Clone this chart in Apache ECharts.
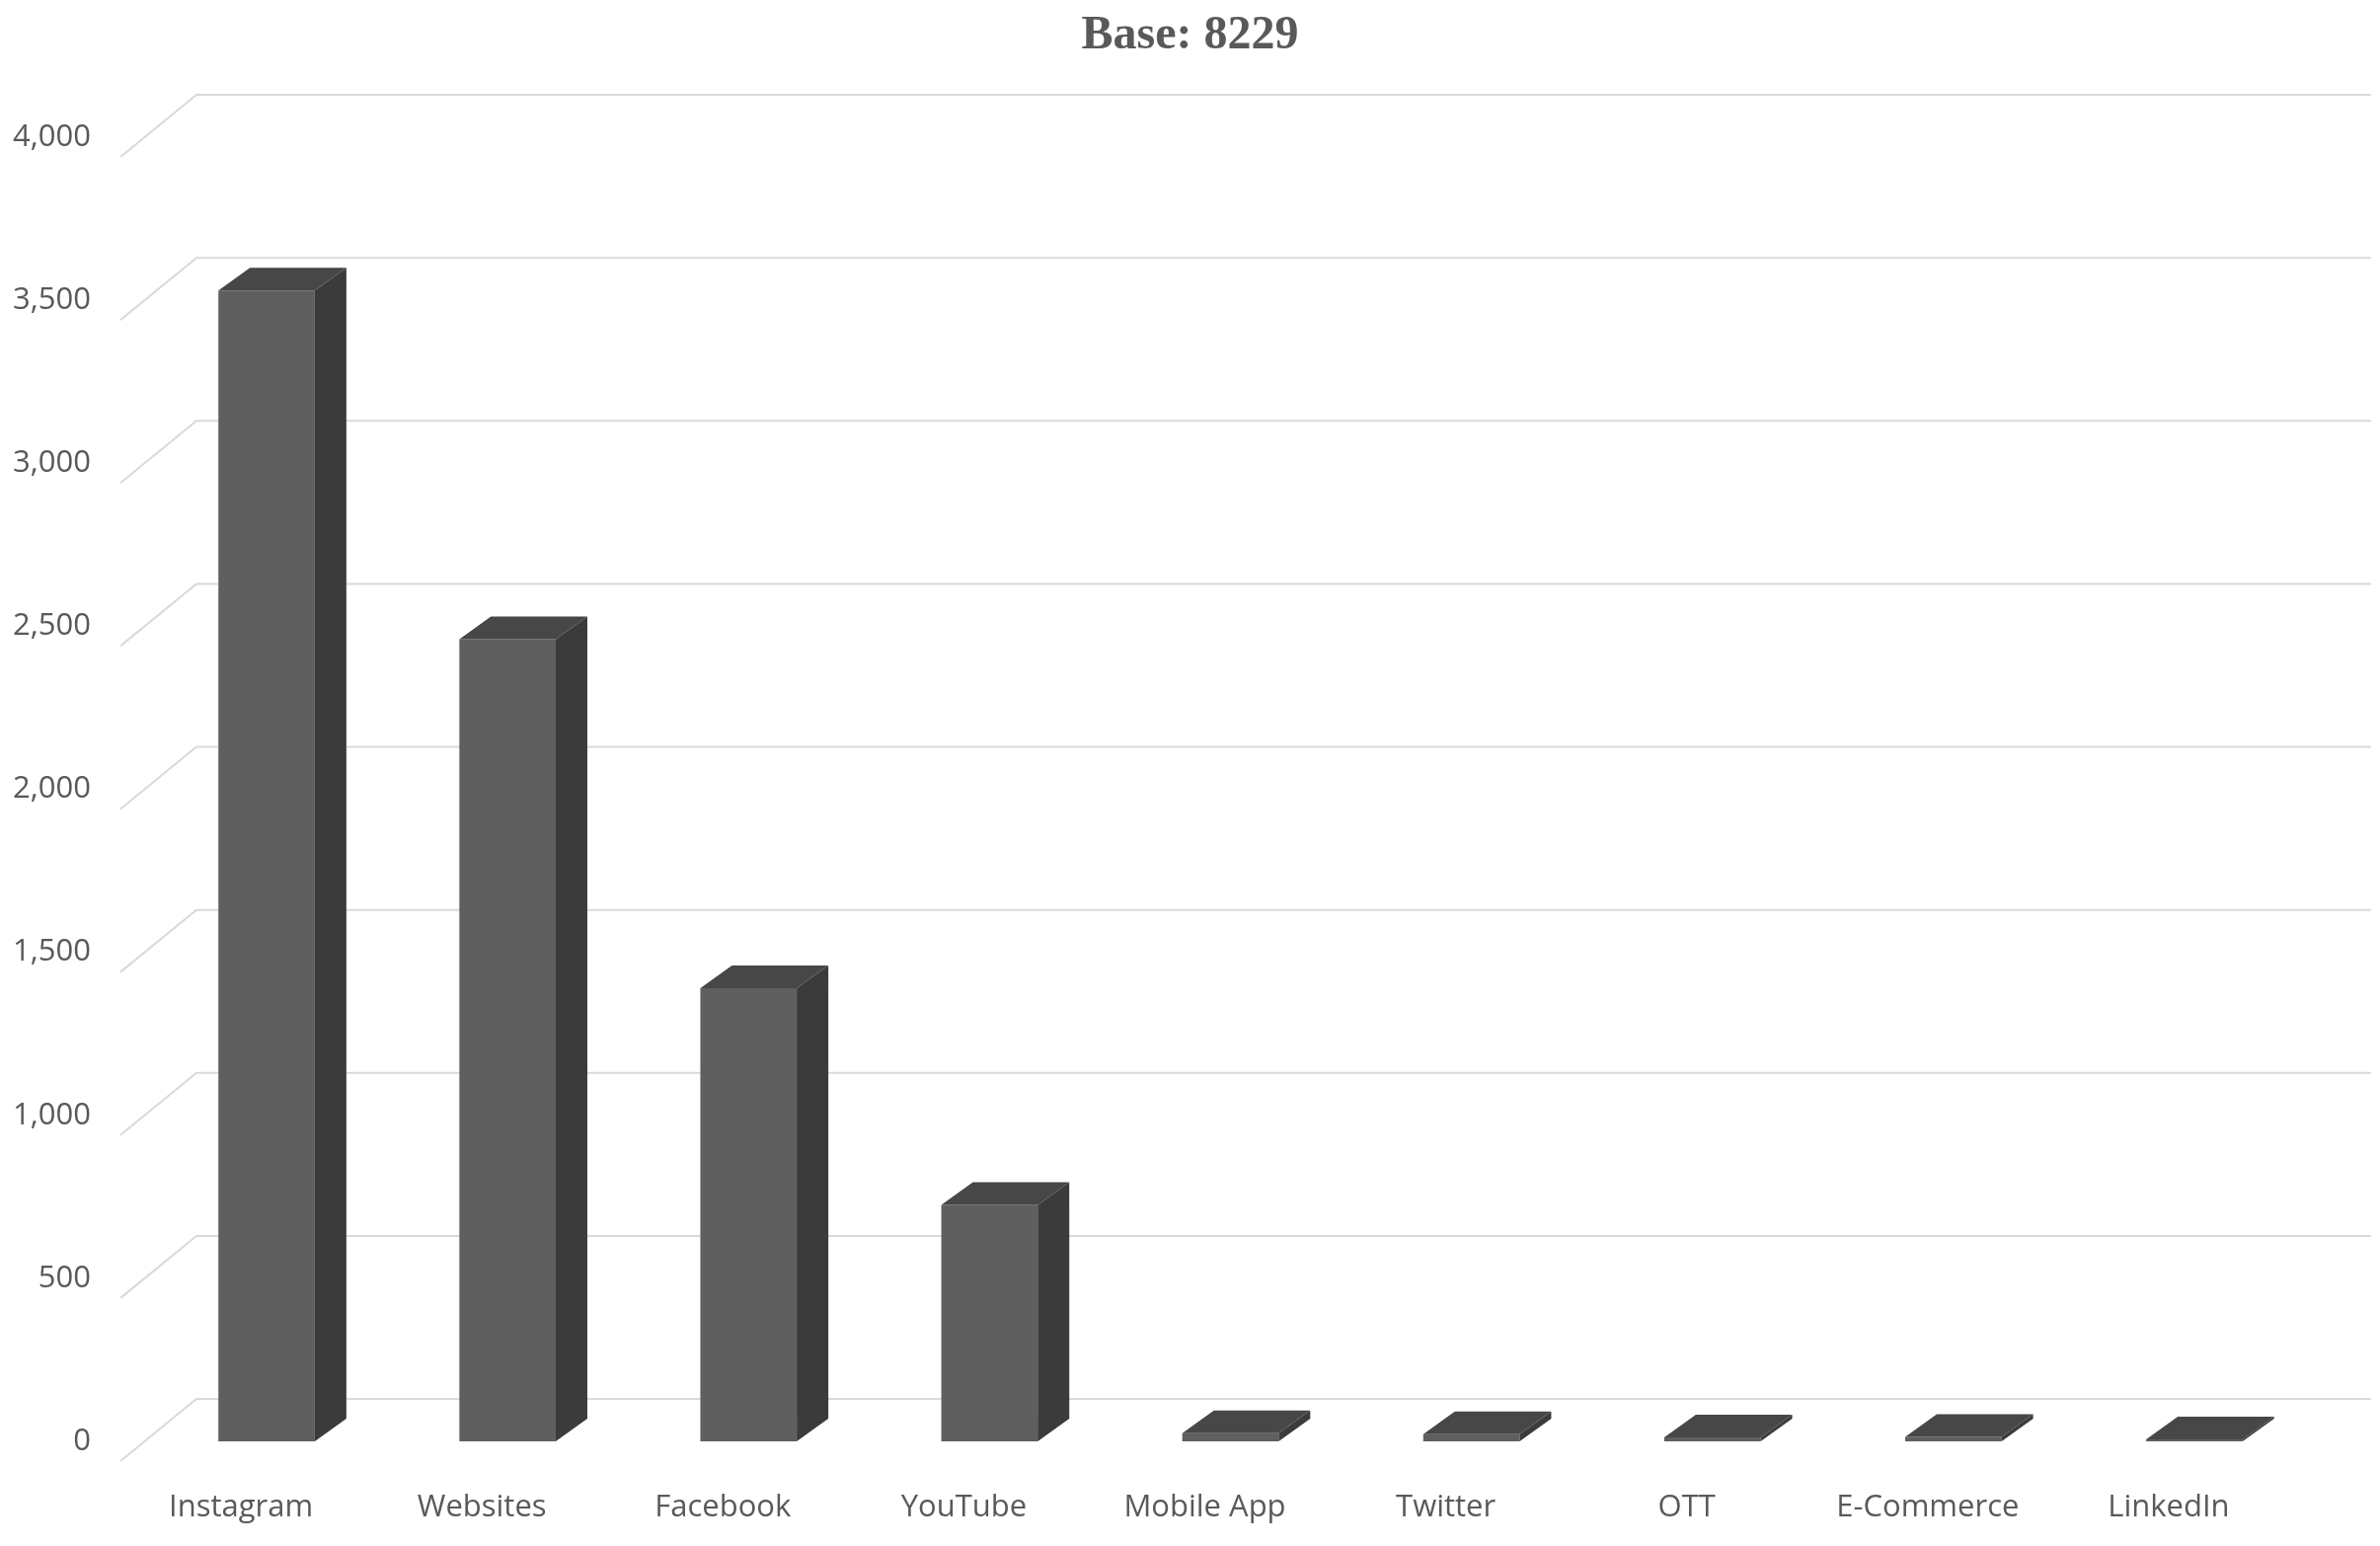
<!DOCTYPE html>
<html>
<head>
<meta charset="utf-8">
<script src="https://cdn.jsdelivr.net/npm/echarts@6/dist/echarts.min.js"></script>
<style>html,body{margin:0;padding:0;background:#fff}#main{width:2411px;height:1566px}</style>
</head>
<body>
<div id="main"></div>
<script>
// 数据
var categories = ["Instagram", "Websites", "Facebook", "YouTube", "Mobile App", "Twitter", "OTT", "E-Commerce", "LinkedIn"];
var values = [3530, 2460, 1390, 725, 25, 22, 12, 14, 6];
var yTicks = [0, 500, 1000, 1500, 2000, 2500, 3000, 3500, 4000];

var chart = echarts.init(document.getElementById("main"));

// 立体柱子偏移
var DX = 32, DY = -23;

function renderBar(params, api) {
    var i = api.value(0);
    var p0 = api.coord([i, 0]);
    var p1 = api.coord([i, api.value(1)]);
    var w = api.size([1, 0])[0] * 0.4;
    var x0 = p0[0] + 26 - w / 2, x1 = x0 + w;
    var yb = p0[1], yt = p1[1];
    return {
        type: "group",
        children: [
            { type: "polygon", shape: { points: [[x0, yb], [x1, yb], [x1, yt], [x0, yt]] }, style: { fill: "#5f5f5f" } },
            { type: "polygon", shape: { points: [[x1, yb], [x1 + DX, yb + DY], [x1 + DX, yt + DY], [x1, yt]] }, style: { fill: "#3b3b3b" } },
            { type: "polygon", shape: { points: [[x0, yt], [x1, yt], [x1 + DX, yt + DY], [x0 + DX, yt + DY]] }, style: { fill: "#474747" } }
        ]
    };
}

function renderGrid(params, api) {
    var y = api.coord([0, api.value(1)])[1];
    var left = params.coordSys.x;
    return {
        type: "polyline",
        shape: { points: [[left, y + 20], [left + 77, y - 43], [2402, y - 43]] },
        style: { stroke: "#d9d9d9", lineWidth: 2, fill: null }
    };
}

var option = {
    title: {
        text: "Base: 8229",
        left: "center",
        top: 8,
        textStyle: { fontFamily: "Liberation Serif", fontWeight: "bold", fontSize: 48, color: "#595959" }
    },
    grid: { left: 122, right: 92, top: 139, bottom: 106 },
    xAxis: {
        type: "category",
        data: categories,
        axisLine: { show: false },
        axisTick: { show: false },
        axisLabel: { color: "#595959", fontSize: 31, fontFamily: "Open Sans", margin: 52 }
    },
    yAxis: {
        type: "value",
        min: 0,
        max: 4000,
        interval: 500,
        splitLine: { show: false },
        axisLine: { show: false },
        axisTick: { show: false },
        axisLabel: { color: "#595959", fontSize: 31, fontFamily: "Open Sans", margin: 30, padding: [40, 0, 0, 0] }
    },
    series: [
        {
            type: "custom",
            renderItem: renderGrid,
            clip: false,
            silent: true,
            data: yTicks.map(function (t) { return [0, t]; })
        },
        {
            type: "custom",
            renderItem: renderBar,
            clip: false,
            data: values.map(function (v, i) { return [i, v]; })
        }
    ]
};
chart.setOption(option);
</script>
</body>
</html>
